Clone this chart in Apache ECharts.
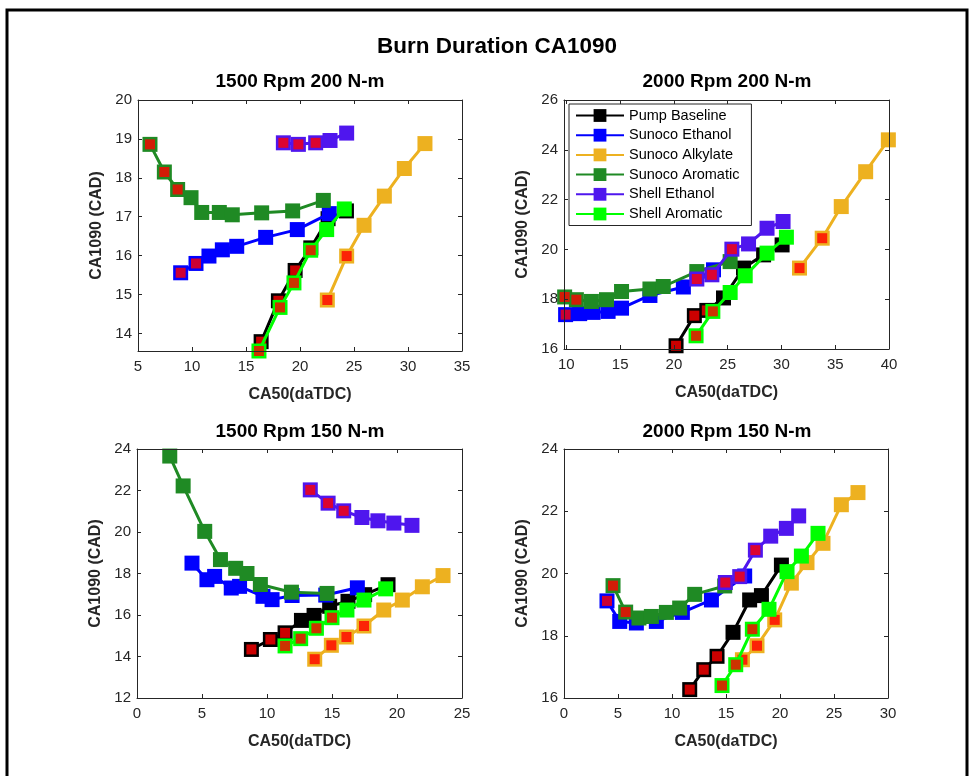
<!DOCTYPE html>
<html>
<head>
<meta charset="utf-8">
<script src="https://cdn.jsdelivr.net/npm/echarts@6/dist/echarts.min.js"></script>
<style>
  html, body { margin: 0; padding: 0; background: #fff; }
  #chart { width: 972px; height: 776px; }
</style>
</head>
<body>
<div id="chart"></div>
<script>
// Fuel blends, in plotting order
const seriesNames = ['Pump Baseline', 'Sunoco Ethanol', 'Sunoco Alkylate', 'Sunoco Aromatic', 'Shell Ethanol', 'Shell Aromatic'];

// ---- 1500 Rpm 200 N-m : [CA50, CA1090] ----
const r1500t200Pump      = [[16.4, 13.79], [18.0, 14.84], [19.55, 15.62], [21.0, 16.2], [22.6, 16.95], [24.3, 17.15]];
const r1500t200SunEth    = [[8.95, 15.56], [10.37, 15.8], [11.57, 15.99], [12.81, 16.15], [14.14, 16.24], [16.82, 16.47], [19.75, 16.67], [22.71, 17.08]];
const r1500t200SunAlk    = [[22.53, 14.86], [24.32, 15.99], [25.93, 16.78], [27.81, 17.53], [29.66, 18.24], [31.57, 18.88]];
const r1500t200SunArom   = [[6.11, 18.86], [7.44, 18.15], [8.67, 17.7], [9.91, 17.49], [10.9, 17.11], [12.53, 17.11], [13.73, 17.05], [16.45, 17.1], [19.32, 17.15], [22.16, 17.42]];
const r1500t200ShellEth  = [[18.46, 18.9], [19.85, 18.86], [21.45, 18.9], [22.78, 18.96], [24.32, 19.15]];
const r1500t200ShellArom = [[16.2, 13.55], [18.15, 14.67], [19.44, 15.3], [20.99, 16.14], [22.47, 16.67], [24.1, 17.2]];
// leading points of each blend flagged in red
const r1500t200Flagged   = [3, 2, 2, 3, 3, 4];

// ---- 2000 Rpm 200 N-m ----
const r2000t200Pump      = [[20.2, 16.13], [21.9, 17.34], [23.06, 17.55], [24.61, 18.05], [26.47, 19.25], [28.34, 19.78], [30.06, 20.18]];
const r2000t200SunEth    = [[9.93, 17.38], [11.24, 17.42], [12.48, 17.47], [13.88, 17.51], [15.13, 17.64], [17.77, 18.15], [20.88, 18.49], [23.68, 19.18]];
const r2000t200SunAlk    = [[31.68, 19.25], [33.79, 20.45], [35.56, 21.72], [37.83, 23.12], [39.94, 24.4]];
const r2000t200SunArom   = [[9.84, 18.09], [10.93, 17.98], [12.33, 17.91], [13.73, 17.98], [15.13, 18.31], [17.77, 18.41], [19.01, 18.51], [22.13, 19.11], [25.23, 19.51]];
const r2000t200ShellEth  = [[22.13, 18.81], [23.53, 18.98], [25.39, 20.01], [26.94, 20.22], [28.66, 20.85], [30.15, 21.12]];
const r2000t200ShellArom = [[22.06, 16.53], [23.62, 17.51], [25.23, 18.27], [26.63, 18.94], [28.66, 19.85], [30.46, 20.49]];
const r2000t200Flagged   = [3, 1, 2, 2, 3, 2];

// ---- 1500 Rpm 150 N-m ----
const r1500t150Pump      = [[8.8, 14.34], [10.26, 14.82], [11.39, 15.14], [12.65, 15.74], [13.62, 15.98], [14.82, 16.42], [16.23, 16.66], [17.51, 16.98], [19.31, 17.46]];
const r1500t150SunEth    = [[4.23, 18.5], [5.38, 17.7], [5.97, 17.86], [7.25, 17.3], [7.89, 17.38], [9.69, 16.9], [10.39, 16.74], [11.93, 16.94], [14.52, 16.96], [16.95, 17.31]];
const r1500t150SunAlk    = [[13.67, 13.87], [14.95, 14.54], [16.11, 14.94], [17.46, 15.47], [18.98, 16.24], [20.41, 16.72], [21.95, 17.36], [23.54, 17.9]];
const r1500t150SunArom   = [[2.52, 23.66], [3.55, 22.22], [5.21, 20.03], [6.42, 18.67], [7.59, 18.25], [8.46, 18.0], [9.49, 17.47], [11.88, 17.1], [14.62, 17.04]];
const r1500t150ShellEth  = [[13.33, 22.03], [14.7, 21.39], [15.9, 21.02], [17.3, 20.7], [18.53, 20.54], [19.76, 20.43], [21.15, 20.32]];
const r1500t150ShellArom = [[11.39, 14.51], [12.59, 14.86], [13.8, 15.36], [15.0, 15.87], [16.15, 16.24], [17.46, 16.72], [19.13, 17.26]];
const r1500t150Flagged   = [3, 0, 4, 0, 3, 4];

// ---- 2000 Rpm 150 N-m ----
const r2000t150Pump      = [[11.64, 16.27], [12.94, 16.91], [14.17, 17.34], [15.65, 18.11], [17.19, 19.15], [18.28, 19.29], [20.13, 20.27]];
const r2000t150SunEth    = [[3.98, 19.12], [5.16, 18.46], [6.7, 18.41], [8.55, 18.46], [10.96, 18.75], [13.65, 19.15], [16.73, 19.92]];
const r2000t150SunAlk    = [[16.52, 17.23], [17.87, 17.68], [19.51, 18.51], [21.05, 19.69], [22.5, 20.35], [23.98, 20.97], [25.68, 22.21], [27.22, 22.6]];
const r2000t150SunArom   = [[4.54, 19.61], [5.71, 18.76], [6.94, 18.57], [8.09, 18.62], [9.48, 18.75], [10.71, 18.89], [12.1, 19.33], [14.88, 19.6]];
const r2000t150ShellEth  = [[14.94, 19.71], [16.27, 19.9], [17.72, 20.75], [19.14, 21.2], [20.59, 21.45], [21.73, 21.85]];
const r2000t150ShellArom = [[14.63, 16.4], [15.9, 17.07], [17.44, 18.21], [18.98, 18.85], [20.65, 20.06], [21.98, 20.56], [23.52, 21.29]];
const r2000t150Flagged   = [3, 1, 3, 2, 3, 3];

// Panel titles and tick values
const panelTitles = ['1500 Rpm 200 N-m', '2000 Rpm 200 N-m', '1500 Rpm 150 N-m', '2000 Rpm 150 N-m'];
const xTicks = [[5, 10, 15, 20, 25, 30, 35], [10, 15, 20, 25, 30, 35, 40], [0, 5, 10, 15, 20, 25], [0, 5, 10, 15, 20, 25, 30]];
const yTicks = [[14, 15, 16, 17, 18, 19, 20], [16, 18, 20, 22, 24, 26], [12, 14, 16, 18, 20, 22, 24], [16, 18, 20, 22, 24]];
const xRange = [[5, 35], [9.78, 40], [0, 25], [0, 30]];
const yRange = [[13.55, 20], [16, 26], [12, 24], [16, 24]];

const panelData = [
  [r1500t200Pump, r1500t200SunEth, r1500t200SunAlk, r1500t200SunArom, r1500t200ShellEth, r1500t200ShellArom],
  [r2000t200Pump, r2000t200SunEth, r2000t200SunAlk, r2000t200SunArom, r2000t200ShellEth, r2000t200ShellArom],
  [r1500t150Pump, r1500t150SunEth, r1500t150SunAlk, r1500t150SunArom, r1500t150ShellEth, r1500t150ShellArom],
  [r2000t150Pump, r2000t150SunEth, r2000t150SunAlk, r2000t150SunArom, r2000t150ShellEth, r2000t150ShellArom]
];
const panelFlagged = [r1500t200Flagged, r2000t200Flagged, r1500t150Flagged, r2000t150Flagged];

// ---- styling ----
const colors = ['#000000', '#0000FF', '#EDB120', '#1F8A24', '#4F16EE', '#00FF00'];
const axisColor = '#262626';
const FONT = '"Liberation Sans", Arial, Helvetica, sans-serif';
const grids = [
  { left: 138, top: 100, width: 324, height: 251 },
  { left: 564, top: 100, width: 325, height: 249 },
  { left: 137, top: 449, width: 325, height: 249 },
  { left: 564, top: 449, width: 324, height: 249 }
];
const titleCenters = [[300, 82], [727, 82], [300, 432], [727, 432]];

const xAxes = [], yAxes = [], series = [];
grids.forEach((g, i) => {
  const common = {
    gridIndex: i,
    type: 'value',
    splitLine: { show: false },
    axisLine: { show: true, onZero: false, lineStyle: { color: axisColor, width: 1 } },
    axisTick: { show: true, inside: true, length: 4, lineStyle: { color: axisColor } },
    z: 200
  };
  xAxes.push(Object.assign({}, common, {
    position: 'bottom', min: xRange[i][0], max: xRange[i][1],
    axisTick: Object.assign({}, common.axisTick, { customValues: xTicks[i] }),
    axisLabel: { customValues: xTicks[i], color: axisColor, fontSize: 15, fontFamily: FONT, margin: 8 },
    name: 'CA50(daTDC)', nameLocation: 'middle', nameGap: 36,
    nameTextStyle: { fontSize: 16, fontWeight: 'bold', color: axisColor, fontFamily: FONT }
  }));
  xAxes.push(Object.assign({}, common, {
    position: 'top', min: xRange[i][0], max: xRange[i][1],
    axisTick: Object.assign({}, common.axisTick, { customValues: xTicks[i] }),
    axisLabel: { show: false }
  }));
  yAxes.push(Object.assign({}, common, {
    position: 'left', min: yRange[i][0], max: yRange[i][1],
    axisTick: Object.assign({}, common.axisTick, { customValues: yTicks[i] }),
    axisLabel: { customValues: yTicks[i], color: axisColor, fontSize: 15, fontFamily: FONT, margin: 6 },
    name: 'CA1090 (CAD)', nameLocation: 'middle', nameGap: 33,
    nameTextStyle: { fontSize: 16, fontWeight: 'bold', color: axisColor, fontFamily: FONT }
  }));
  yAxes.push(Object.assign({}, common, {
    position: 'right', min: yRange[i][0], max: yRange[i][1],
    axisTick: Object.assign({}, common.axisTick, { customValues: yTicks[i] }),
    axisLabel: { show: false }
  }));

  // each blend drawn above the previous one; its red flags sit right on top of it
  panelData[i].forEach((pts, s) => {
    series.push({
      type: 'line', name: seriesNames[s],
      xAxisIndex: 2 * i, yAxisIndex: 2 * i,
      data: pts, clip: false, z: 10 + 2 * s,
      symbol: 'rect', symbolSize: 15, showSymbol: true,
      lineStyle: { color: colors[s], width: 3 },
      itemStyle: { color: colors[s] },
      emphasis: { disabled: true }
    });
    series.push({
      type: 'scatter',
      xAxisIndex: 2 * i, yAxisIndex: 2 * i,
      data: pts.slice(0, panelFlagged[i][s]), clip: false, z: 11 + 2 * s,
      symbol: 'rect', symbolSize: 10,
      itemStyle: { color: '#FF0000' },
      emphasis: { disabled: true }, silent: true
    });
  });
});

const graphics = [
  { type: 'rect', shape: { x: 7, y: 10, width: 960, height: 820 }, style: { fill: 'none', stroke: '#000', lineWidth: 3 }, silent: true },
  { type: 'text', x: 497, y: 47, style: { text: 'Burn Duration CA1090', font: 'bold 22.5px ' + FONT, fill: '#000', align: 'center', verticalAlign: 'middle' } }
];
panelTitles.forEach((t, i) => {
  graphics.push({ type: 'text', x: titleCenters[i][0], y: titleCenters[i][1],
    style: { text: t, font: 'bold 19px ' + FONT, fill: '#000', align: 'center', verticalAlign: 'middle' } });
});

const chart = echarts.init(document.getElementById('chart'), null, { renderer: 'canvas' });
chart.setOption({
  animation: false,
  backgroundColor: '#ffffff',
  grid: grids.map(g => Object.assign({ containLabel: false }, g)),
  xAxis: xAxes,
  yAxis: yAxes,
  legend: {
    data: seriesNames,
    left: 569, top: 104, orient: 'vertical', z: 300,
    padding: [4, 12, 4, 6],
    itemWidth: 48, itemHeight: 16, itemGap: 4.7,
    backgroundColor: '#fff',
    borderColor: axisColor, borderWidth: 1,
    textStyle: { fontSize: 14.5, color: '#000', fontFamily: FONT },
    selectedMode: false
  },
  graphic: graphics,
  series: series
});
</script>
</body>
</html>
